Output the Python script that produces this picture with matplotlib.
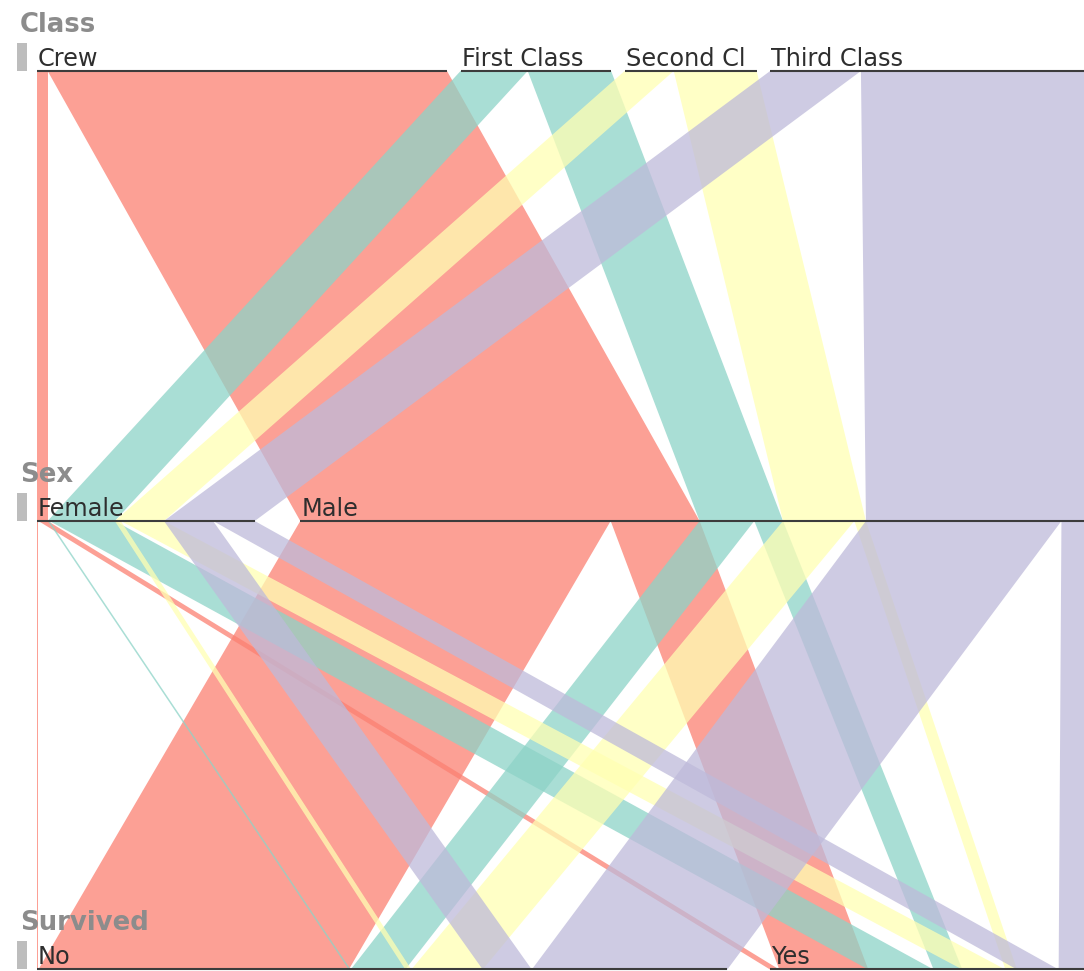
import numpy as np
import matplotlib.pyplot as plt
from matplotlib.patches import Rectangle

# Titanic passengers: Class x Sex x Survived
dimensions = ["Class", "Sex", "Survived"]
classes = ["Crew", "First Class", "Second Class", "Third Class"]
sexes = ["Female", "Male"]
outcomes = ["No", "Yes"]

female_no = [3, 4, 13, 106]
female_yes = [20, 141, 93, 90]
male_no = [670, 118, 154, 422]
male_yes = [192, 62, 25, 88]

class_colors = ["#fb8072", "#8dd3c7", "#ffffb3", "#bebada"]

# counts[class, sex, survived]
counts = np.array([
    [[female_no[i], female_yes[i]], [male_no[i], male_yes[i]]]
    for i in range(len(classes))
], dtype=float)
class_sex = counts.sum(axis=2)

# layout (pixels)
X0 = 37
K = 0.4633
line_y = [71, 521, 969.5]
gaps = [13.5, 45.5, 42.7]
ALPHA = 0.75


def starts(totals, gap):
    out, x = [], X0
    for t in totals:
        out.append(x)
        x += t * K + gap
    return out


cls_tot = class_sex.sum(axis=1)
sex_tot = class_sex.sum(axis=0)
surv_tot = counts.sum(axis=(0, 1))
cls_x = starts(cls_tot, gaps[0])
sex_x = starts(sex_tot, gaps[1])
surv_x = starts(surv_tot, gaps[2])

fig = plt.figure(figsize=(10.84, 9.71), dpi=100)
ax = fig.add_axes([0, 0, 1, 1])
ax.set_xlim(0, 1084)
ax.set_ylim(971, 0)
ax.axis("off")
renderer = fig.canvas.get_renderer()


def ribbon(xa, xb, w, ya, yb, color):
    ax.fill([xa, xa + w, xb + w, xb], [ya, ya, yb, yb],
            color=color, alpha=ALPHA, lw=0, zorder=1)


# Class -> Sex
for i in range(len(classes)):
    for s in range(len(sexes)):
        w = class_sex[i, s] * K
        xa = cls_x[i] + class_sex[i, :s].sum() * K
        xb = sex_x[s] + class_sex[:i, s].sum() * K
        ribbon(xa, xb, w, line_y[0], line_y[1], class_colors[i])

# Sex -> Survived
for i in range(len(classes)):
    for s in range(len(sexes)):
        for v in range(len(outcomes)):
            w = counts[i, s, v] * K
            xa = sex_x[s] + (class_sex[:i, s].sum() + counts[i, s, :v].sum()) * K
            xb = surv_x[v] + (counts[:i, :, v].sum() + counts[i, :s, v].sum()) * K
            ribbon(xa, xb, w, line_y[1], line_y[2], class_colors[i])

# bars and labels
levels = [(classes, cls_x, cls_tot), (sexes, sex_x, sex_tot), (outcomes, surv_x, surv_tot)]
for d, (name, (cats, xs, tots)) in enumerate(zip(dimensions, levels)):
    y = line_y[d]
    ax.text(20, y - 39, name, fontsize=18.7, fontweight="bold", color="#8c8c8c",
            ha="left", va="baseline", zorder=4)
    ax.add_patch(Rectangle((17, y - 28), 10, 28, color="#bdbdbd", lw=0, zorder=4))
    for cat, x, t in zip(cats, xs, tots):
        ax.plot([x, x + t * K], [y, y], color="#3c3c3c", lw=1.5,
                solid_capstyle="butt", zorder=3)
        txt = ax.text(x + 1, y - 5, cat, fontsize=17.3, color="#2e2e2e",
                      ha="left", va="baseline", zorder=4)
        # drop characters until the label fits its category
        label = cat
        while label and txt.get_window_extent(renderer).width > t * K - 10:
            label = label[:-1].rstrip()
            txt.set_text(label)

fig.savefig("out.png", dpi=100)
